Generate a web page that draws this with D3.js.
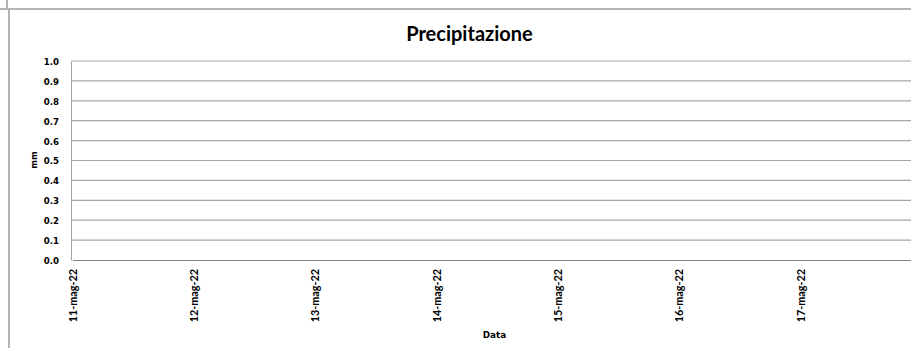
<!DOCTYPE html>
<html>
<head>
<meta charset="utf-8">
<script src="https://cdn.jsdelivr.net/npm/d3@7"></script>
<style>
  body { margin: 0; background: #fff; }
  svg { display: block; }
</style>
</head>
<body>
<svg id="chart"></svg>
<script>
// dati (nessuna precipitazione registrata)
const giorni = ["2022-05-11", "2022-05-12", "2022-05-13", "2022-05-14", "2022-05-15", "2022-05-16", "2022-05-17"]
const precipitazione = [0, 0, 0, 0, 0, 0, 0]
const yTicks = [0, 0.1, 0.2, 0.3, 0.4, 0.5, 0.6, 0.7, 0.8, 0.9, 1.0]

const width = 911
const height = 348
const margin = { top: 61, left: 71, bottom: 88 }

const svg = d3.select('#chart')
    .attr("width", width)
    .attr("height", height)

const parseDate = d3.timeParse("%Y-%m-%d")
const data = giorni.map((g, i) => ({ data: parseDate(g), mm: precipitazione[i] }))

const mesi = ["gen", "feb", "mar", "apr", "mag", "giu", "lug", "ago", "set", "ott", "nov", "dic"]
const formatData = d => d3.timeFormat("%d")(d) + "-" + mesi[d.getMonth()] + "-" + d3.timeFormat("%y")(d)

// bordi delle celle del foglio
svg.append("line").attr("x1", 7).attr("x2", 7).attr("y1", 0).attr("y2", 9)
    .attr("stroke", "#b4b4b4").attr("stroke-width", 2)
svg.append("line").attr("x1", 0).attr("x2", width).attr("y1", 9).attr("y2", 9)
    .attr("stroke", "#b4b4b4").attr("stroke-width", 2)
svg.append("line").attr("x1", 9).attr("x2", 9).attr("y1", 9).attr("y2", height)
    .attr("stroke", "#b4b4b4").attr("stroke-width", 2)

const x = d3.scaleTime()
    .domain([parseDate("2022-05-11"), parseDate("2022-05-18")])
    .range([72.5, 72.5 + 7 * 121.3])

const y = d3.scaleLinear()
    .domain([0, 1])
    .range([height - margin.bottom, margin.top])

// griglia
svg.append("g")
    .selectAll("line")
    .data(yTicks.filter(t => t > 0))
    .enter()
    .append("line")
    .attr("x1", margin.left)
    .attr("x2", width)
    .attr("y1", d => y(d))
    .attr("y2", d => y(d))
    .attr("stroke", "#a6a6a6")
    .attr("stroke-width", 1.2)

// asse y
const yAxis = svg.append("g")
    .attr("transform", `translate(${margin.left},0)`)
    .call(d3.axisLeft(y).tickValues(yTicks).tickFormat(d3.format(".1f")).tickSize(0).tickPadding(12))
yAxis.select(".domain").attr("stroke", "#a0a0a0")
yAxis.selectAll("text")
    .attr("font-family", "DejaVu Sans")
    .attr("font-weight", "bold")
    .attr("font-size", 8.6)
    .attr("fill", "#000")
    .attr("dy", "0.4em")

// asse x
const xAxis = svg.append("g")
    .attr("transform", `translate(0,${y(0)})`)
    .call(d3.axisBottom(x).tickValues(data.map(d => d.data)).tickFormat(formatData).tickSize(0))
xAxis.select(".domain").attr("stroke", "#808080")
xAxis.selectAll("text")
    .attr("font-family", "Lato")
    .attr("font-weight", "bold")
    .attr("font-size", 10.8)
    .attr("fill", "#000")
    .attr("text-anchor", "end")
    .attr("transform", "rotate(-90)")
    .attr("x", -9)
    .attr("y", 0)
    .attr("dy", "0.35em")

// barre (altezza zero)
svg.append("g")
    .selectAll("rect")
    .data(data)
    .enter()
    .append("rect")
    .attr("x", d => x(d.data) - 20)
    .attr("width", 40)
    .attr("y", d => y(d.mm))
    .attr("height", d => y(0) - y(d.mm))
    .attr("fill", "#4f81bd")

// titoli
svg.append("text")
    .attr("x", 469.5)
    .attr("y", 41)
    .attr("text-anchor", "middle")
    .attr("font-family", "Lato")
    .attr("font-weight", "bold")
    .attr("font-size", 20)
    .text("Precipitazione")

svg.append("text")
    .attr("x", 494.5)
    .attr("y", 337.5)
    .attr("text-anchor", "middle")
    .attr("font-family", "DejaVu Sans")
    .attr("font-weight", "bold")
    .attr("font-size", 8.8)
    .text("Data")

svg.append("text")
    .attr("transform", "translate(36.5,160) rotate(-90)")
    .attr("text-anchor", "middle")
    .attr("font-family", "DejaVu Sans")
    .attr("font-weight", "bold")
    .attr("font-size", 8.4)
    .text("mm")
</script>
</body>
</html>
